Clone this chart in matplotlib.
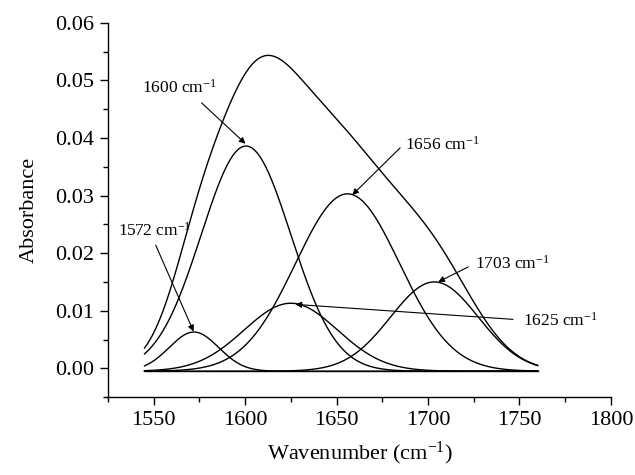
import numpy as np
import matplotlib.pyplot as plt
from matplotlib.ticker import MultipleLocator

plt.rcParams['font.family'] = ['Liberation Serif', 'DejaVu Serif']
plt.rcParams['mathtext.fontset'] = 'custom'
plt.rcParams['mathtext.rm'] = 'Liberation Serif'
plt.rcParams['mathtext.it'] = 'Liberation Serif:italic'

# Parametros dos picos gaussianos
centers = [1572, 1600.5, 1625, 1656, 1703.5]
heights = [0.0068, 0.0391, 0.0118, 0.0308, 0.0155]
sigmas = [13.5, 24.5, 25.5, 28.5, 24.0]
baseline = -0.0005
x_start, x_end = 1545, 1760

# Etiquetas: texto, punta da frecha, inicio da frecha, posicion do texto
labels = ['1572', '1600', '1625', '1656', '1703']
arrow_heads = [(1571.8, 0.0064), (1600.2, 0.0390), (1627.5, 0.0111),
               (1658.6, 0.0301), (1705.6, 0.0150)]
arrow_tails = [(1551.1, 0.0214), (1576.2, 0.0461), (1746.5, 0.0085),
               (1684.8, 0.0383), (1722.0, 0.0176)]
text_pos = [(1550.5, 0.0239, 'center'), (1564.2, 0.0487, 'center'),
            (1752.0, 0.0083, 'left'), (1687.6, 0.0388, 'left'),
            (1725.8, 0.0181, 'left')]

x = np.linspace(x_start, x_end, 600)
comps = [h * np.exp(-(x - c) ** 2 / (2 * s ** 2))
         for c, h, s in zip(centers, heights, sigmas)]

fig = plt.figure(figsize=(6.35, 4.75), dpi=100)
ax = fig.add_axes([0.170, 0.164, 0.792, 0.788])

for g in comps:
    ax.plot(x, g + baseline, color='black', lw=1.0)
ax.plot(x, np.sum(comps, axis=0) + baseline, color='black', lw=1.0)
ax.plot([x_start, x_end], [baseline, baseline], color='black', lw=1.0)

for lab, hd, tl, tp in zip(labels, arrow_heads, arrow_tails, text_pos):
    ax.annotate('', xy=hd, xytext=tl,
                arrowprops=dict(arrowstyle='-|>', color='black', lw=0.8,
                                mutation_scale=9, shrinkA=0, shrinkB=0))
    ax.text(tp[0], tp[1], lab + r' cm$^{\mathregular{-1}}$', ha=tp[2],
            va='center', fontsize=12.5)

ax.set_xlim(1525, 1800)
ax.set_ylim(-0.005, 0.06)
ax.xaxis.set_major_locator(MultipleLocator(50))
ax.xaxis.set_minor_locator(MultipleLocator(25))
ax.yaxis.set_major_locator(MultipleLocator(0.01))
ax.yaxis.set_minor_locator(MultipleLocator(0.005))
ax.yaxis.set_major_formatter(plt.FuncFormatter(lambda v, p: '%.2f' % v))
ax.set_xticks([1550, 1600, 1650, 1700, 1750, 1800])

for side in ['top', 'right']:
    ax.spines[side].set_visible(False)
for side in ['left', 'bottom']:
    ax.spines[side].set_linewidth(1.0)

ax.tick_params(which='major', direction='out', length=6, width=1.0,
               labelsize=16, pad=4)
ax.tick_params(which='minor', direction='out', length=3.5, width=1.0)

ax.set_xlabel(r'Wavenumber (cm$^{\mathregular{-1}}$)', fontsize=16, labelpad=7)
ax.set_ylabel('Absorbance', fontsize=16, labelpad=12)

fig.savefig('out.png', dpi=100)
